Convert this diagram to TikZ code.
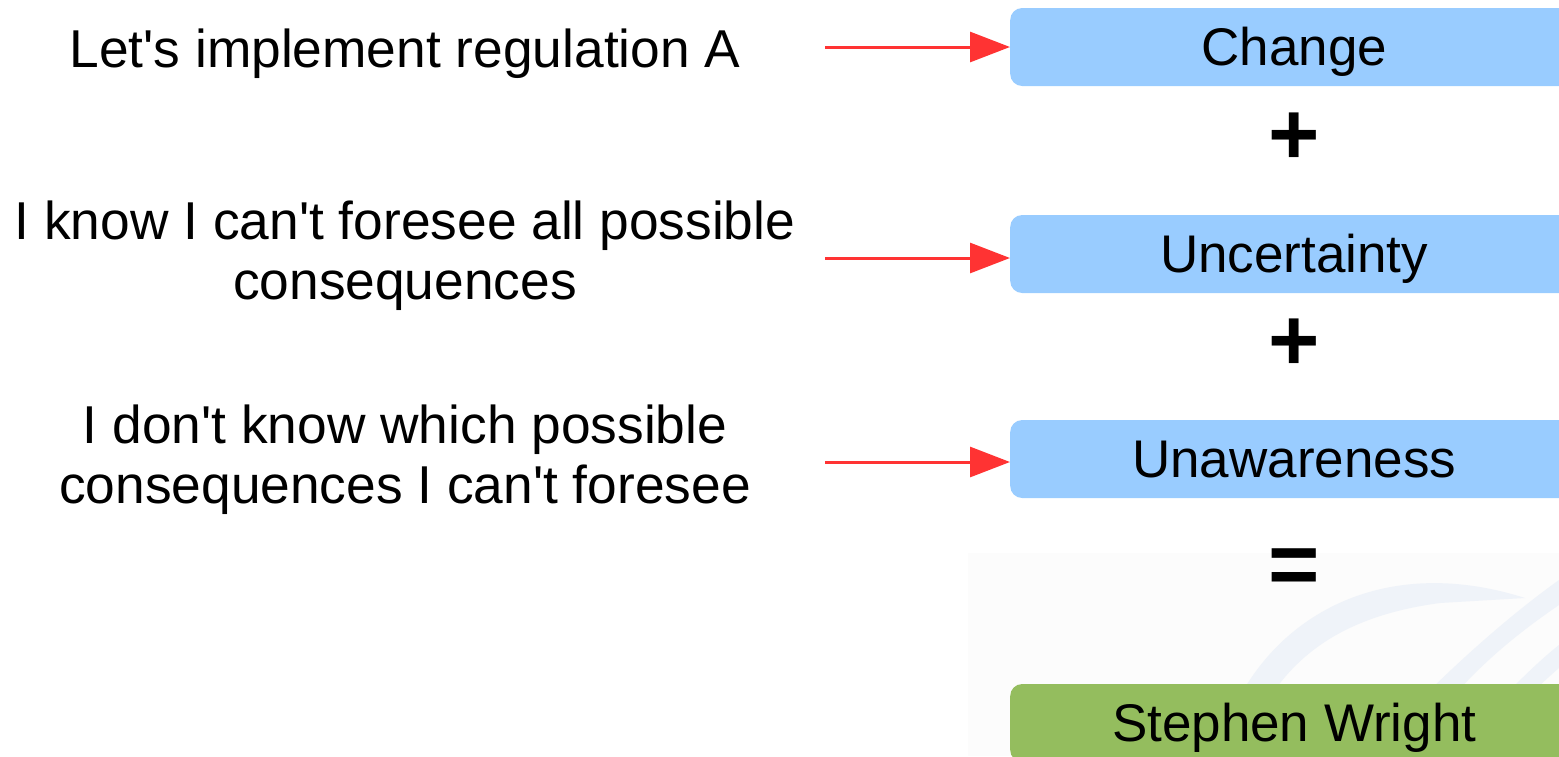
\documentclass[tikz,border=0pt]{standalone}
\usepackage{fontspec}
\setmainfont{Liberation Sans}
\usetikzlibrary{arrows.meta}
\definecolor{boxblue}{HTML}{99CCFF}
\definecolor{boxgreen}{HTML}{94BD5E}
\definecolor{arrowred}{HTML}{FF3333}
\definecolor{hazegrey}{HTML}{FCFCFC}
\definecolor{swirl}{HTML}{EFF3F9}
\begin{document}
\begin{tikzpicture}[x=1pt,y=-1pt,
  termbox/.style={rounded corners=12pt,minimum width=568pt,minimum height=78pt,
    inner sep=0pt,anchor=west,text height=48pt,text depth=11pt,
    font=\fontsize{53}{60}\selectfont},
  saying/.style={align=center,font=\fontsize{53.3}{60}\selectfont,inner sep=0pt},
  opsign/.style={font=\fontsize{88}{88}\selectfont\bfseries,inner sep=0pt},
  feed/.style={arrowred,line width=3pt,-{Triangle[length=40pt,width=30pt]}}]
\useasboundingbox (0,0) rectangle (1559,756);
\clip (0,0) rectangle (1559,756);
% faint background panel with swirl
\fill[hazegrey] (968,553) rectangle (1559,756);
\fill[swirl] (1238,700) .. controls (1285,610) and (1390,555) .. (1525,598)
  -- (1440,603) .. controls (1350,615) and (1300,650) .. (1268,700) -- cycle;
\fill[swirl] (1420,700) .. controls (1460,660) and (1510,615) .. (1559,580)
  -- (1559,605) .. controls (1515,635) and (1480,665) .. (1450,700) -- cycle;
\fill[swirl] (1500,700) .. controls (1520,680) and (1540,660) .. (1559,645)
  -- (1559,668) .. controls (1545,680) and (1535,690) .. (1525,700) -- cycle;
% term boxes
\node[termbox,fill=boxblue] (change) at (1010,47) {Change};
\node[termbox,fill=boxblue] (uncert) at (1010,254) {Uncertainty};
\node[termbox,fill=boxblue] (unaware) at (1010,459) {Unawareness};
\node[termbox,fill=boxgreen] (wright) at (1010,723) {Stephen Wright};
% operators
\node[opsign] (plusa) at (1294.5,138.5) {+};
\node[opsign] (plusb) at (1294.5,344.5) {+};
\node[opsign] (equal) at (1294.5,572) {=};
% sayings
\node[saying,anchor=base] (sayA) at (405,67) {Let\textquotesingle s implement regulation A};
\node[saying,anchor=north] (sayB) at (405,201) {I know I can\textquotesingle t foresee all possible\\consequences};
\node[saying,anchor=north] (sayC) at (405,405) {I don\textquotesingle t know which possible\\consequences I can\textquotesingle t foresee};
% arrows
\coordinate (startA) at (825,47);
\coordinate (startB) at (825,258);
\coordinate (startC) at (825,462);
\draw[feed] (startA) -- (startA -| change.west);
\draw[feed] (startB) -- (startB -| uncert.west);
\draw[feed] (startC) -- (startC -| unaware.west);
\end{tikzpicture}
\end{document}
